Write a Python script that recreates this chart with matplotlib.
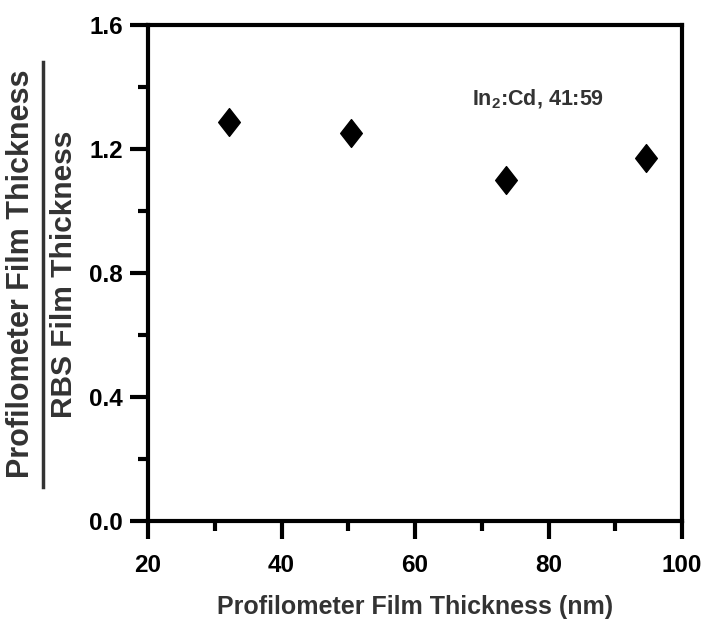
import matplotlib.pyplot as plt
from matplotlib.ticker import MultipleLocator
from matplotlib.lines import Line2D
from matplotlib.path import Path

plt.rcParams['font.family'] = ['Liberation Sans', 'DejaVu Sans']

# profilometer thickness (nm) vs ratio profilometer / RBS
thickness = [32.1, 50.4, 73.6, 94.6]
ratio = [1.287, 1.252, 1.100, 1.171]

x_ticks = [20, 40, 60, 80, 100]
y_ticks = [0.0, 0.4, 0.8, 1.2, 1.6]

W, H = 706, 622
fig = plt.figure(figsize=(W/100, H/100), dpi=100)
ax = fig.add_axes([148/W, 1 - 521/H, (682-148)/W, (521-25)/H])

# taller than wide diamond
diamond = Path([(0, 1), (0.78, 0), (0, -1), (-0.78, 0), (0, 1)],
               [Path.MOVETO, Path.LINETO, Path.LINETO, Path.LINETO, Path.CLOSEPOLY])
ax.plot(thickness, ratio, linestyle='none', marker=diamond, markersize=20,
        color='black', zorder=3)

ax.set_xlim(20, 100)
ax.set_ylim(0, 1.6)
ax.set_xticks(x_ticks)
ax.set_yticks(y_ticks)
ax.set_yticklabels(['%.1f' % v for v in y_ticks])
ax.xaxis.set_minor_locator(MultipleLocator(10))
ax.yaxis.set_minor_locator(MultipleLocator(0.2))

for s in ax.spines.values():
    s.set_linewidth(3)

ax.tick_params(which='major', direction='out', length=13, width=3,
               labelsize=17.5)
ax.tick_params(which='minor', direction='out', length=7, width=3)
ax.tick_params(axis='y', which='major', pad=5)
ax.tick_params(axis='x', which='major', pad=11)
for lbl in ax.get_xticklabels() + ax.get_yticklabels():
    lbl.set_fontweight('bold')

ax.set_xlabel('Profilometer Film Thickness (nm)', fontsize=18,
              fontweight='bold', color='#333333', labelpad=13)

ax.text(68.6, 1.36, r'In$_\mathregular{2}$:Cd, 41:59', fontsize=15.5,
        fontweight='bold', color='#333333', va='center', ha='left')

# y label drawn as a fraction
fig.text(21/W, 1 - 274/H, 'Profilometer Film Thickness', rotation=90,
         fontsize=22, fontweight='bold', color='#333333',
         ha='center', va='center')
fig.text(64/W, 1 - 274/H, 'RBS Film Thickness', rotation=90,
         fontsize=21.5, fontweight='bold', color='#333333',
         ha='center', va='center')
fig.add_artist(Line2D([43/W, 43/W], [1 - 62/H, 1 - 487/H],
                      transform=fig.transFigure, color='#333333', lw=2.5))

fig.savefig('out.png', dpi=100)
